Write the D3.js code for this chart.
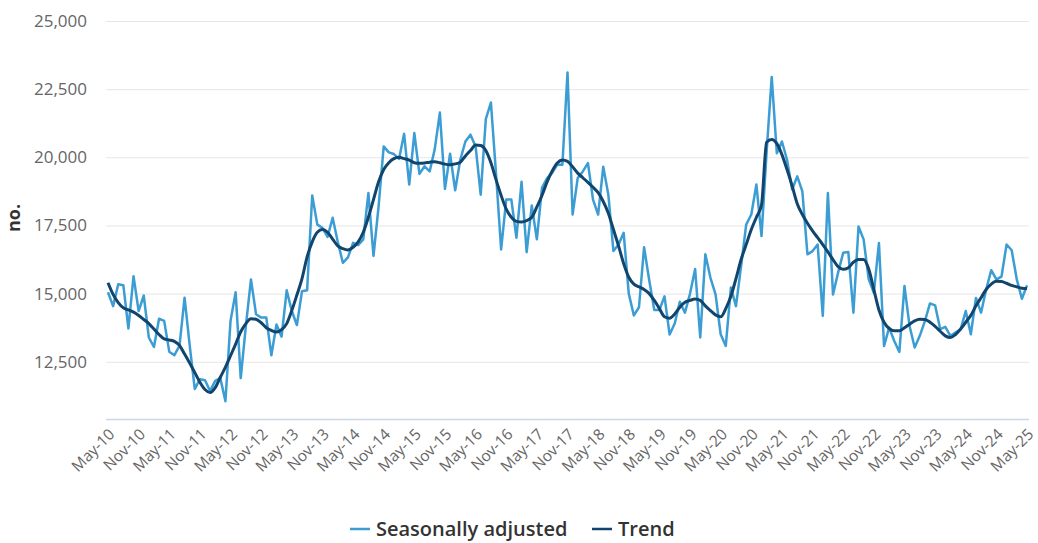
<!DOCTYPE html>
<html>
<head>
<meta charset="utf-8">
<script src="https://cdn.jsdelivr.net/npm/d3@7"></script>
<style>
  body { margin: 0; background: #fff; }
  svg, svg text { font-family: "Open Sans", sans-serif; }
  .axis_text { fill: #666; }
</style>
</head>
<body>
<figure id="chart" style="margin:0"></figure>
<script>
// tick labels, every 6 months
var tickLabels = ["May-10","Nov-10","May-11","Nov-11","May-12","Nov-12","May-13","Nov-13",
    "May-14","Nov-14","May-15","Nov-15","May-16","Nov-16","May-17","Nov-17","May-18","Nov-18",
    "May-19","Nov-19","May-20","Nov-20","May-21","Nov-21","May-22","Nov-22","May-23","Nov-23",
    "May-24","Nov-24","May-25"];

var yTicks = [12500, 15000, 17500, 20000, 22500, 25000];

// monthly, May-10 .. May-25
var seasonallyAdjusted = [
    15050,14540,15340,15310,13720,15640,14360,14930,13390,13040,14080,14000,
    12870,12740,13080,14850,13100,11500,11860,11820,11430,11800,11900,11050,
    14000,15050,11900,13810,15520,14240,14120,14120,12740,13870,13420,15120,
    14360,13850,15090,15120,18600,17530,17410,17080,17780,16900,16130,16330,
    16860,16780,16990,18690,16380,18200,20400,20180,20120,19940,20860,19000,
    20890,19390,19670,19480,20300,21640,18840,20130,18790,19910,20580,20830,
    20400,18630,21400,22010,19400,16620,18450,18450,17050,19100,16520,18230,
    16990,18880,19240,19430,19730,19730,23110,17900,19240,19480,19790,18450,
    17900,19650,18630,16560,16800,17230,15000,14200,14500,16700,15500,14400,
    14400,14900,13500,13900,14700,14300,15000,15900,13390,16440,15580,14970,
    13510,13080,15220,14540,16010,17530,17900,19000,17110,20200,22950,20150,
    20580,19910,18820,19300,18750,16440,16560,16800,14180,18690,14970,15770,
    16500,16530,14300,17460,16990,15520,15030,16860,13080,13750,13260,12860,
    15280,13810,13020,13450,13990,14640,14570,13700,13780,13450,13570,13690,
    14360,13510,14840,14300,15150,15860,15520,15620,16800,16590,15520,14810,
    15300
];

var trend = [
    15400,14970,14670,14480,14400,14320,14200,14050,13900,13700,13500,13340,
    13300,13250,13100,12780,12450,12100,11750,11480,11370,11550,11930,12300,
    12720,13150,13600,13900,14080,14060,13930,13750,13650,13590,13680,13900,
    14380,14950,15550,16350,16900,17250,17350,17250,17000,16750,16650,16600,
    16700,16900,17250,17800,18450,19100,19550,19800,19950,20000,19950,19900,
    19800,19780,19790,19820,19840,19800,19750,19730,19760,19820,20050,20250,
    20450,20430,20250,19800,19180,18600,18100,17800,17650,17630,17680,17800,
    18180,18600,19100,19500,19790,19900,19850,19650,19420,19250,19080,18900,
    18700,18380,17950,17350,16750,16100,15600,15350,15250,15150,15000,14750,
    14450,14150,14100,14250,14500,14680,14750,14800,14750,14550,14380,14220,
    14150,14450,14900,15550,16250,16800,17350,17800,18250,20550,20650,20500,
    20100,19550,18950,18300,17900,17580,17300,17050,16800,16530,16250,15990,
    15890,15950,16150,16250,16250,15900,15150,14400,13950,13720,13640,13640,
    13750,13880,14000,14060,14050,13950,13800,13620,13450,13390,13500,13700,
    13950,14200,14550,14850,15150,15350,15450,15440,15380,15300,15250,15200,
    15190
];

var seriesNames = ["Seasonally adjusted", "Trend"];
var seriesColors = ["#3b9dd3", "#12456e"];

let dimensions = {
    width: 1038,
    height: 543,
    margin: { top: 21, right: 9, bottom: 124, left: 106 },
};
dimensions.boundedWidth = dimensions.width - dimensions.margin.left - dimensions.margin.right;
dimensions.boundedHeight = dimensions.height - dimensions.margin.top - dimensions.margin.bottom;

var svg = d3.select("figure#chart")
    .append("svg")
    .attr("width", dimensions.width)
    .attr("height", dimensions.height);

var g = svg.append("g")
    .attr("transform", `translate(${dimensions.margin.left},${dimensions.margin.top})`);

var xScale = d3.scaleLinear()
    .domain([0, seasonallyAdjusted.length - 1])
    .range([2, dimensions.boundedWidth - 2]);

var yScale = d3.scaleLinear()
    .domain([10400, 25000])
    .range([dimensions.boundedHeight, 0]);

// gridlines + y labels
var yAxis = g.append("g")
    .attr("class", "y axis")
    .call(d3.axisLeft(yScale)
        .tickValues(yTicks)
        .tickSize(-dimensions.boundedWidth)
        .tickPadding(19)
        .tickFormat(d3.format(",")));
yAxis.attr("font-family", null);
yAxis.select(".domain").remove();
yAxis.selectAll("line").attr("stroke", "#e6e6e6");
yAxis.selectAll("text")
    .attr("class", "axis_text")
    .style("font-size", "17px");

// x axis
var xAxis = g.append("g")
    .attr("class", "x axis")
    .attr("transform", `translate(0,${dimensions.boundedHeight})`)
    .call(d3.axisBottom(xScale)
        .tickValues(d3.range(0, seasonallyAdjusted.length, 6))
        .tickSize(0)
        .tickFormat((d, i) => tickLabels[i]));
xAxis.attr("font-family", null);
xAxis.select(".domain").attr("stroke", "#ccd6eb").attr("stroke-width", 1.5)
    .attr("d", `M0,0.5H${dimensions.boundedWidth}`);
xAxis.selectAll("text")
    .attr("class", "axis_text")
    .style("font-size", "15.5px")
    .attr("text-anchor", "end")
    .attr("dy", 0)
    .attr("transform", "translate(5,14) rotate(-45)");

// lines
var line = d3.line()
    .x((d, i) => xScale(i))
    .y(d => yScale(d));

g.append("path")
    .datum(seasonallyAdjusted)
    .attr("fill", "none")
    .attr("stroke", seriesColors[0])
    .attr("stroke-width", 2.5)
    .attr("stroke-linejoin", "round")
    .attr("d", line);

g.append("path")
    .datum(trend)
    .attr("fill", "none")
    .attr("stroke", seriesColors[1])
    .attr("stroke-width", 3)
    .attr("stroke-linejoin", "round")
    .attr("d", line.curve(d3.curveMonotoneX));

// y title
svg.append("text")
    .attr("transform", "translate(20,218) rotate(-90)")
    .attr("text-anchor", "middle")
    .style("font-size", "18px")
    .style("font-weight", "bold")
    .attr("fill", "#333")
    .text("no.");

// legend
var legendX = [350, 592];
var legend = svg.selectAll("g.legend")
    .data(seriesNames)
    .enter()
    .append("g")
    .attr("class", "legend")
    .attr("transform", (d, i) => `translate(${legendX[i]},529)`);
legend.append("line")
    .attr("x1", 0).attr("x2", 20)
    .attr("stroke", (d, i) => seriesColors[i])
    .attr("stroke-width", 2.5);
legend.append("text")
    .attr("x", 26)
    .attr("dy", "0.35em")
    .style("font-size", "20px")
    .style("font-weight", "600")
    .attr("fill", "#333")
    .text(d => d);
</script>
</body>
</html>
